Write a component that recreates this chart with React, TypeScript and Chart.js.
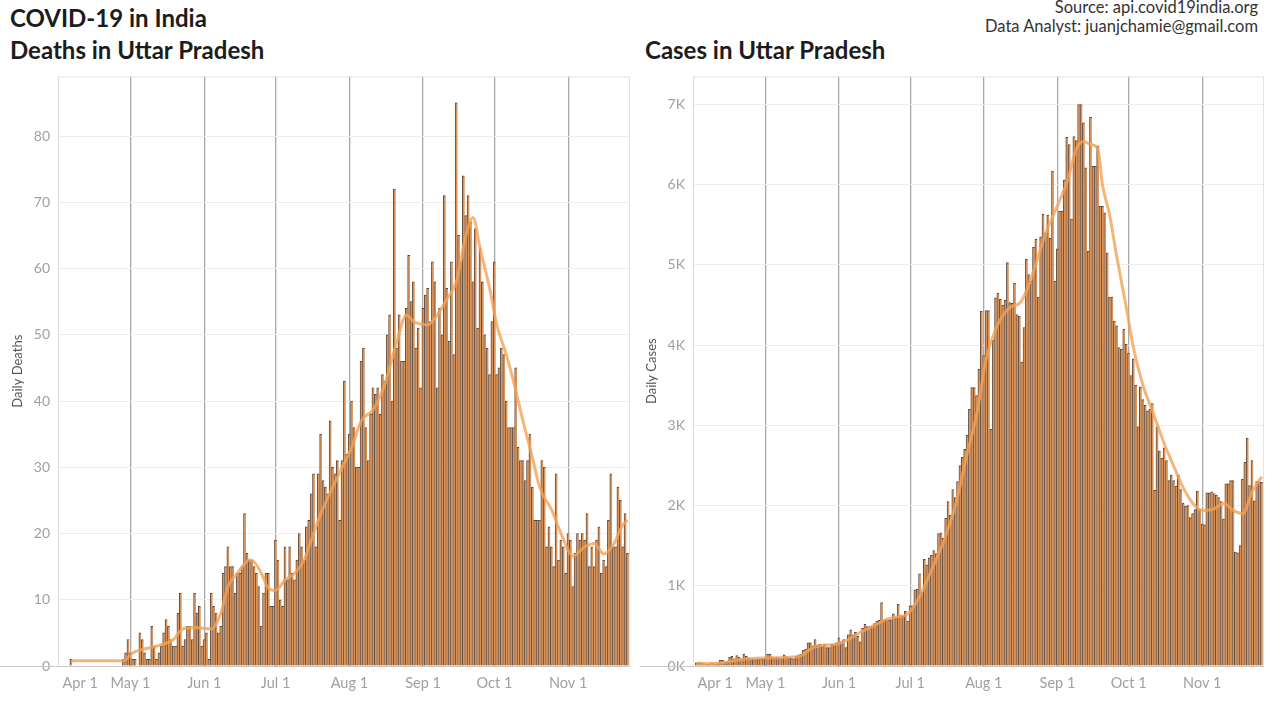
import React, { useEffect, useRef } from "react";
import { Chart, registerables } from "chart.js";

Chart.register(...registerables);

// Day index 0 = Apr 1, 2020
const monthTickDays = [0, 30, 61, 91, 122, 153, 183, 214];
const monthTickLabels = ["Apr 1", "May 1", "Jun 1", "Jul 1", "Aug 1", "Sep 1", "Oct 1", "Nov 1"];

const deathsTicks = [0, 10, 20, 30, 40, 50, 60, 70, 80];
const casesTicks = [0, 1000, 2000, 3000, 4000, 5000, 6000, 7000];

const N = null;
const deathsDaily: (number | null)[] = [
  N, N, N, N, N, 1, N, N, N, N,
  N, N, N, N, N, N, N, N, N, N,
  N, N, N, N, N, N, N, 1, 2, 4,
  2, 1, 1, N, 5, 4, 2, 1, 1, 6,
  3, 1, 2, 3, 5, 7, 6, 4, 3, 3,
  8, 11, 3, 4, 6, 6, 4, 11, 8, 9,
  3, 4, 5, 1, 11, 9, 8, 5, 6, 14,
  15, 18, 15, 15, 11, 14, 14, 15, 23, 17,
  16, 16, 15, 14, 12, 6, 11, 14, 14, 9,
  9, 19, 16, 10, 9, 18, 13, 18, 14, 13,
  16, 20, 18, 16, 21, 22, 26, 29, 18, 29,
  35, 28, 27, 26, 37, 30, 29, 31, 22, 31,
  43, 32, 35, 40, 36, 30, 30, 46, 48, 36,
  31, 38, 42, 41, 42, 38, 44, 43, 50, 53,
  40, 72, 48, 53, 46, 46, 54, 62, 55, 58,
  48, 51, 42, 54, 56, 57, 52, 61, 58, 42,
  54, 50, 71, 57, 49, 61, 47, 85, 65, 61,
  74, 68, 71, 67, 58, 66, 51, 63, 58, 50,
  48, 44, 52, 61, 44, 45, 48, 47, 40, 36,
  36, 36, 45, 33, 31, 31, 28, 31, 35, 27,
  22, 22, 22, 31, 30, 18, 21, 18, 15, 29,
  16, 19, 18, 14, 20, 19, 12, 17, 20, 19,
  20, 19, 23, 15, 18, 15, 19, 21, 14, 16,
  15, 22, 29, 18, 18, 27, 25, 18, 23, 17,
];

const casesDaily: (number | null)[] = [
  N, 40, 50, 40, 30, 20, 20, 30, 30, 20,
  30, 70, 70, 50, 50, 110, 120, 90, 130, 110,
  80, 150, 120, 100, 90, 90, 80, 90, 90, 90,
  100, 150, 150, 110, 100, 110, 100, 100, 140, 110,
  100, 100, 90, 120, 140, 150, 200, 210, 290, 290,
  250, 330, 260, 270, 250, 270, 230, 230, 270, 260,
  290, 350, 300, 330, 230, 390, 450, 390, 420, 370,
  300, 470, 520, 490, 490, 500, 530, 560, 570, 790,
  570, 580, 570, 580, 650, 600, 770, 630, 620, 680,
  560, 750, 750, 950, 960, 1150, 920, 1330, 1260, 1350,
  1380, 1440, 1400, 1650, 1660, 1590, 1840, 2050, 1880, 2200,
  2100, 2300, 2500, 2600, 2700, 2880, 3200, 3470, 3470, 3370,
  3700, 4420, 3870, 4430, 4430, 2950, 4060, 4590, 4650, 4570,
  4500, 4560, 5030, 4530, 4520, 4770, 4380, 4360, 3790, 4220,
  5070, 4880, 4800, 5220, 5320, 4600, 5350, 5630, 5400, 5620,
  5330, 6170, 4800, 5200, 5670, 5670, 6060, 6590, 6500, 5570,
  6600, 6550, 7000, 7000, 6770, 6210, 5170, 6840, 6230, 6230,
  6480, 5730, 5730, 5650, 5150, 4600, 4600, 4300, 4240, 3970,
  3950, 4200, 4010, 3900, 3620, 3830, 3500, 2980, 3480, 3320,
  3250, 3180, 3200, 3270, 2190, 2980, 2680, 2590, 2720, 2560,
  2310, 2380, 2310, 2240, 2380, 2200, 2030, 1990, 2000, 1850,
  1900, 1950, 2180, 1950, 1770, 1760, 2160, 2160, 2170, 2150,
  2130, 2100, 2050, 1830, 2270, 2270, 2310, 2310, 1420, 1410,
  1500, 2330, 2540, 2840, 2250, 2560, 2060, 2300, 2300, 2290,
];

// 7-day average line
const deathsAvgDays = [5, 27, 31, 35, 41, 48, 52, 57, 64, 68, 71, 75, 80, 82, 85, 88, 91, 95, 99, 103, 106, 110, 115, 119, 123, 127, 132, 137, 142, 146, 149, 155, 159, 163, 167, 171, 174, 177, 181, 184, 188, 191, 195, 199, 202, 207, 211, 216, 221, 225, 229, 233, 237, 239];
const deathsAvgValues = [0.8, 0.8, 2, 2.5, 3, 4, 5.6, 5.8, 5.6, 8, 12, 14, 16, 15.7, 14, 11.7, 11.4, 13, 14, 16, 19, 23, 27, 30, 33, 37, 38.7, 42.6, 49, 53, 52, 51.5, 53, 55.4, 58, 65, 67.7, 63, 57, 51.5, 47, 43, 37, 31.4, 27, 23.6, 20, 16.6, 18, 18.5, 16.9, 18.3, 21.3, 22];

const casesAvgDays = [1, 10, 20, 30, 40, 45, 50, 55, 60, 65, 70, 75, 80, 85, 90, 95, 100, 105, 110, 115, 119, 123, 127, 133, 137, 140, 144, 148, 152, 157, 161, 164, 167, 170, 172, 175, 178, 182, 185, 189, 193, 198, 202, 206, 210, 214, 219, 223, 227, 231, 235, 239];
const casesAvgValues = [30, 35, 80, 100, 110, 130, 230, 260, 270, 330, 420, 490, 570, 610, 650, 870, 1200, 1550, 2000, 2650, 3140, 3830, 4200, 4470, 4520, 4680, 5020, 5390, 5670, 6030, 6450, 6540, 6500, 6450, 5990, 5620, 5100, 4470, 3970, 3500, 3180, 2770, 2490, 2220, 2030, 1940, 1960, 2030, 1940, 1900, 2170, 2360];

const FONT = "Lato, 'Open Sans', sans-serif";

const framePlugin = {
  id: "frame",
  beforeDatasetsDraw(chart: any) {
    const { ctx, chartArea } = chart;
    const { left, top, right, bottom } = chartArea;
    ctx.save();
    ctx.strokeStyle = "#e2e2e2";
    ctx.lineWidth = 1;
    ctx.beginPath();
    ctx.moveTo(left, top + 0.5);
    ctx.lineTo(right, top + 0.5);
    ctx.moveTo(right - 0.5, top);
    ctx.lineTo(right - 0.5, bottom);
    ctx.stroke();
    ctx.strokeStyle = "#c9c9c9";
    ctx.beginPath();
    ctx.moveTo(0, bottom + 0.5);
    ctx.lineTo(left, bottom + 0.5);
    ctx.stroke();
    ctx.restore();
  },
};

type PanelProps = {
  daily: (number | null)[];
  avgDays: number[];
  avgValues: number[];
  yMax: number;
  yTicks: number[];
  yTitle: string;
  fmt: (v: number) => string;
  axisWidth: number;
  padRight: number;
  titlePad: number;
  left: number;
};

function Panel(p: PanelProps) {
  const ref = useRef<HTMLCanvasElement | null>(null);
  useEffect(() => {
    if (!ref.current) return;
    const barData = p.daily.map((v, i) => ({ x: i, y: v }));
    const lineData = p.avgDays.map((d, i) => ({ x: d, y: p.avgValues[i] }));
    const chart = new Chart(ref.current, {
      type: "bar",
      data: {
        datasets: [
          {
            type: "line",
            data: lineData as any,
            borderColor: "rgba(243,163,86,0.8)",
            borderWidth: 3,
            pointRadius: 0,
            tension: 0.4,
            cubicInterpolationMode: "monotone",
            order: 0,
          } as any,
          {
            type: "bar",
            data: barData as any,
            backgroundColor: "#d9945c",
            borderColor: "#5a463a",
            borderWidth: { left: 0.9, top: 1, right: 0, bottom: 0 },
            borderSkipped: false,
            barPercentage: 1,
            categoryPercentage: 1,
            order: 1,
          } as any,
        ],
      },
      options: {
        responsive: false,
        animation: false,
        devicePixelRatio: 1,
        layout: { padding: { top: 0, right: p.padRight, left: 0, bottom: 0 } },
        plugins: { legend: { display: false }, tooltip: { enabled: false } },
        scales: {
          x: {
            type: "linear",
            offset: false,
            min: -0.5,
            max: 240,
            afterBuildTicks: (scale: any) => {
              scale.ticks = monthTickDays.map((v) => ({ value: v }));
            },
            afterFit: (scale: any) => {
              scale.height = 37;
            },
            ticks: {
              autoSkip: false,
              maxRotation: 0,
              padding: 9,
              color: "#a0a0a0",
              font: { family: FONT, size: 14.5 },
              callback: (v: any) => {
                const i = monthTickDays.indexOf(Number(v));
                if (i < 0) return "";
                // the first label sits just inside the axis, as in the original
                return i === 0 ? "\u2007\u2007\u2007\u2007\u2007" + monthTickLabels[i] : monthTickLabels[i];
              },
            },
            grid: {
              offset: false,
              drawTicks: false,
              color: (c: any) => (c.tick && c.tick.value === 0 ? "rgba(0,0,0,0)" : "#a8a8a8"),
              lineWidth: 1.3,
            },
            border: { display: true, color: "#c9c9c9" },
          },
          y: {
            type: "linear",
            min: 0,
            max: p.yMax,
            afterBuildTicks: (scale: any) => {
              scale.ticks = p.yTicks.map((v) => ({ value: v }));
            },
            afterFit: (scale: any) => {
              scale.width = p.axisWidth;
            },
            ticks: {
              padding: 8,
              color: "#a0a0a0",
              font: { family: FONT, size: 14 },
              callback: (v: any) => p.fmt(Number(v)),
            },
            grid: { drawTicks: false, color: "#ededed", lineWidth: 1 },
            border: { display: true, color: "#dcdcdc" },
            title: {
              display: true,
              text: p.yTitle,
              color: "#555555",
              font: { family: FONT, size: 13 },
              padding: { top: p.titlePad, bottom: 0 },
            },
          },
        },
      },
      plugins: [framePlugin],
    } as any);
    return () => chart.destroy();
  }, []);
  return (
    <canvas
      ref={ref}
      width={640}
      height={643}
      style={{ position: "absolute", left: p.left, top: 60, width: 640, height: 643 }}
    />
  );
}

export default function App() {
  const titleStyle: React.CSSProperties = {
    position: "absolute",
    fontFamily: FONT,
    fontWeight: 700,
    fontSize: 24,
    lineHeight: "28px",
    color: "#1c1c1c",
    whiteSpace: "nowrap",
  };
  const srcStyle: React.CSSProperties = {
    position: "absolute",
    right: 22,
    fontFamily: FONT,
    fontSize: 16.5,
    lineHeight: "19px",
    color: "#333",
    whiteSpace: "nowrap",
    textAlign: "right",
  };
  return (
    <div style={{ position: "relative", width: 1280, height: 703, background: "#fff", overflow: "hidden" }}>
      <style>{"body{margin:0;}"}</style>
      <div style={{ ...titleStyle, left: 10, top: 4 }}>COVID-19 in India</div>
      <div style={{ ...titleStyle, left: 10, top: 36 }}>Deaths in Uttar Pradesh</div>
      <div style={{ ...titleStyle, left: 645, top: 36 }}>Cases in Uttar Pradesh</div>
      <div style={{ ...srcStyle, top: -2 }}>Source: api.covid19india.org</div>
      <div style={{ ...srcStyle, top: 17 }}>Data Analyst: juanjchamie@gmail.com</div>
      <Panel
        daily={deathsDaily}
        avgDays={deathsAvgDays}
        avgValues={deathsAvgValues}
        yMax={89}
        yTicks={deathsTicks}
        yTitle="Daily Deaths"
        fmt={(v) => String(v)}
        axisWidth={58}
        padRight={10}
        titlePad={10}
        left={0}
      />
      <Panel
        daily={casesDaily}
        avgDays={casesAvgDays}
        avgValues={casesAvgValues}
        yMax={7350}
        yTicks={casesTicks}
        yTitle="Daily Cases"
        fmt={(v) => v / 1000 + "K"}
        axisWidth={53}
        padRight={16}
        titlePad={4}
        left={640}
      />
    </div>
  );
}
